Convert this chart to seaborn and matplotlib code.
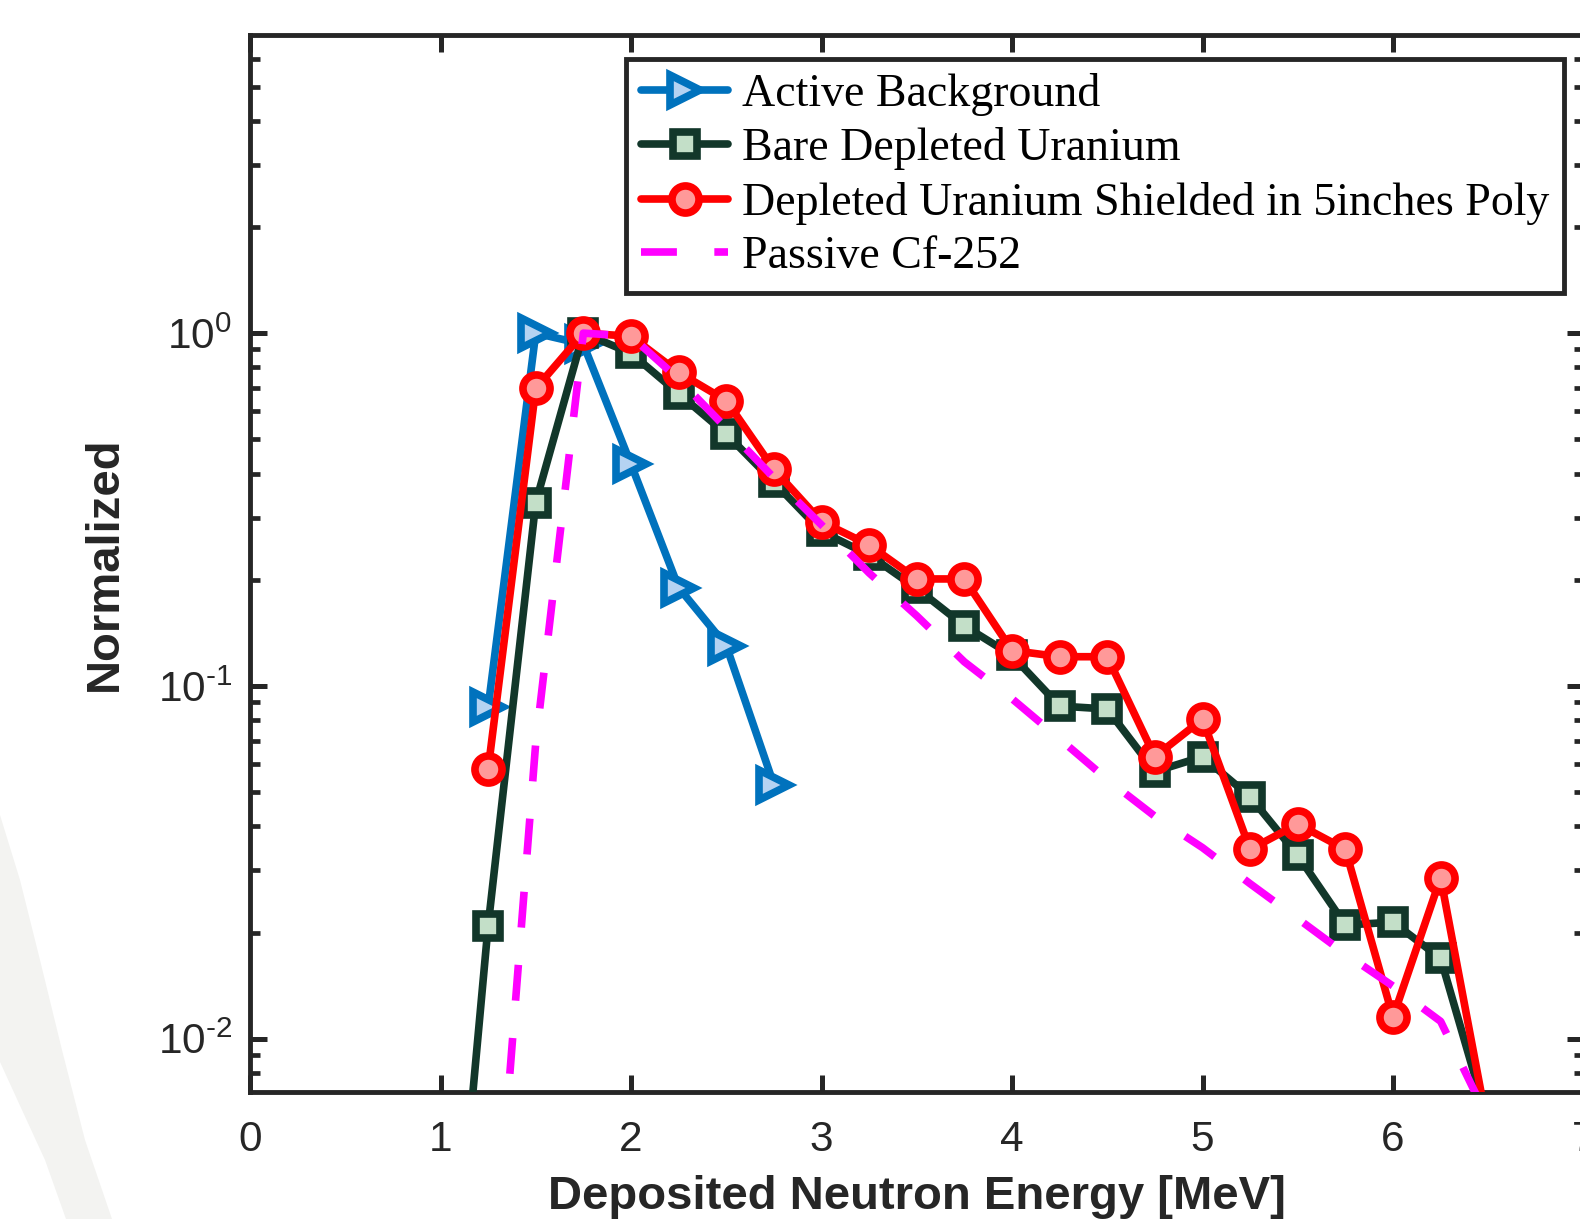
import numpy as np
import pandas as pd
import seaborn as sns
import matplotlib
matplotlib.use("Agg")
import matplotlib.pyplot as plt
from matplotlib.ticker import LogLocator, NullLocator, FixedLocator, FuncFormatter
from matplotlib.patches import Polygon

# ---------------- data ----------------
x_active = [1.25, 1.5, 1.75, 2.0, 2.25, 2.5, 2.75]
y_active = [0.087, 1.0, 0.93, 0.425, 0.19, 0.13, 0.0525]

x_bare = [1.0, 1.25, 1.5, 1.75, 2.0, 2.25, 2.5, 2.75, 3.0, 3.25, 3.5, 3.75,
          4.0, 4.25, 4.5, 4.75, 5.0, 5.25, 5.5, 5.75, 6.0, 6.25, 6.5]
y_bare = [0.0007, 0.0209, 0.331, 1.0, 0.877, 0.674, 0.518, 0.378, 0.274, 0.235,
          0.189, 0.148, 0.122, 0.0877, 0.086, 0.0572, 0.063, 0.0485, 0.0331,
          0.021, 0.0214, 0.0169, 0.0058]

x_shield = [1.25, 1.5, 1.75, 2.0, 2.25, 2.5, 2.75, 3.0, 3.25, 3.5, 3.75, 4.0,
            4.25, 4.5, 4.75, 5.0, 5.25, 5.5, 5.75, 6.0, 6.25, 6.5]
y_shield = [0.058, 0.697, 1.0, 0.98, 0.774, 0.644, 0.411, 0.292, 0.251, 0.201,
            0.201, 0.126, 0.121, 0.121, 0.063, 0.0805, 0.0344, 0.0406, 0.0344,
            0.0115, 0.0286, 0.0055]

x_cf = [1.25, 1.5, 1.75, 2.0, 2.25, 2.5, 2.75, 3.0, 3.25, 3.5, 3.75, 4.0,
        4.25, 4.5, 4.75, 5.0, 5.25, 5.5, 5.75, 6.0, 6.25, 6.5]
y_cf = [0.0013, 0.069, 1.0, 0.98, 0.741, 0.538, 0.389, 0.286, 0.209, 0.158,
        0.117, 0.092, 0.0708, 0.0543, 0.0427, 0.0348, 0.0275, 0.0219, 0.0174,
        0.0141, 0.0112, 0.0059]

labels = ["Active Background", "Bare Depleted Uranium",
          "Depleted Uranium Shielded in 5inches Poly", "Passive Cf-252"]
x_ticks = [0, 1, 2, 3, 4, 5, 6, 7]

# ---------------- style ----------------
sns.set_theme(style="white")
plt.rcParams["font.family"] = ["Liberation Sans", "DejaVu Sans"]
plt.rcParams["mathtext.fontset"] = "custom"
plt.rcParams["mathtext.rm"] = "Liberation Sans"
plt.rcParams["mathtext.it"] = "Liberation Sans"
plt.rcParams["mathtext.sf"] = "Liberation Sans"

AX_COL = "#262626"
LW = 5.5

W, H = 1580, 1219
fig = plt.figure(figsize=(W / 100, H / 100), dpi=100)

# faint background arc (scan artefact at lower left)
arc_px = [(0, 815), (20, 880), (40, 960), (62, 1050), (85, 1140), (112, 1219),
          (66, 1219), (45, 1160), (22, 1110), (0, 1062)]
fig.patches.append(Polygon([(x / W, 1 - y / H) for x, y in arc_px],
                           closed=True, transform=fig.transFigure,
                           facecolor="#F3F3F1", edgecolor="none", zorder=0))

ax = fig.add_axes([250 / W, 1 - 1092 / H, 1333.5 / W, (1092 - 35) / H])
ax.patch.set_alpha(0)

sns.lineplot(x=x_active, y=y_active, ax=ax, color="#0072BD", linewidth=LW,
             marker=">", markersize=21, markeredgewidth=LW,
             markeredgecolor="#0072BD", markerfacecolor="#B5D3F2",
             label=labels[0], zorder=3)
sns.lineplot(x=x_bare, y=y_bare, ax=ax, color="#12372A", linewidth=LW,
             marker="s", markersize=17.5, markeredgewidth=LW,
             markeredgecolor="#12372A", markerfacecolor="#C3DFC8",
             label=labels[1], zorder=4)
sns.lineplot(x=x_shield, y=y_shield, ax=ax, color="#FF0000", linewidth=LW,
             marker="o", markersize=19.5, markeredgewidth=LW,
             markeredgecolor="#FF0000", markerfacecolor="#FF9999",
             label=labels[2], zorder=5)
sns.lineplot(x=x_cf, y=y_cf, ax=ax, color="#FF00FF", linewidth=LW,
             label=labels[3], zorder=6)
cf_line = ax.lines[-1]
cf_line.set_dashes([4.7, 4.9])
cf_line.set_dash_capstyle("butt")

ax.set_yscale("log")
ax.set_xlim(0, 7)
ax.set_ylim(10 ** -2.151, 10 ** 0.845)

ax.xaxis.set_major_locator(FixedLocator(x_ticks))
ax.xaxis.set_minor_locator(NullLocator())
ax.yaxis.set_major_locator(LogLocator(base=10, numticks=10))
ax.yaxis.set_minor_locator(LogLocator(base=10, subs=np.arange(2, 10), numticks=20))


def log_fmt(v, pos):
    e = int(round(np.log10(v)))
    if e < 0:
        return r"$\mathdefault{10^{\text{-}%d}}$" % (-e)
    return r"$\mathdefault{10^{%d}}$" % e


ax.yaxis.set_major_formatter(FuncFormatter(log_fmt))

for sp in ax.spines.values():
    sp.set_visible(True)
    sp.set_color(AX_COL)
    sp.set_linewidth(3.5)

ax.tick_params(axis="both", which="both", direction="in", colors=AX_COL,
               top=True, right=True, bottom=True, left=True)
ax.tick_params(axis="both", which="major", length=12, width=3.6, labelsize=30.5)
ax.tick_params(axis="both", which="minor", length=7.5, width=3.4)
ax.tick_params(axis="x", which="major", pad=20)
ax.tick_params(axis="y", which="major", pad=13)

ax.set_xlabel("Deposited Neutron Energy [MeV]", fontsize=34, fontweight="bold",
              color=AX_COL, labelpad=11)
ax.set_ylabel("Normalized", fontsize=34, fontweight="bold", color=AX_COL,
              labelpad=22)

leg = ax.legend(loc="upper right", bbox_to_anchor=(0.9853, 0.9777),
                borderaxespad=0, fancybox=False, framealpha=1,
                edgecolor=AX_COL, prop={"family": "Liberation Serif", "size": 33},
                handlelength=1.9, handletextpad=0.3, labelspacing=0.245,
                borderpad=0.32)
leg.get_frame().set_linewidth(3.5)
for t in leg.get_texts():
    t.set_color("black")

fig.savefig("out.png", dpi=100)
